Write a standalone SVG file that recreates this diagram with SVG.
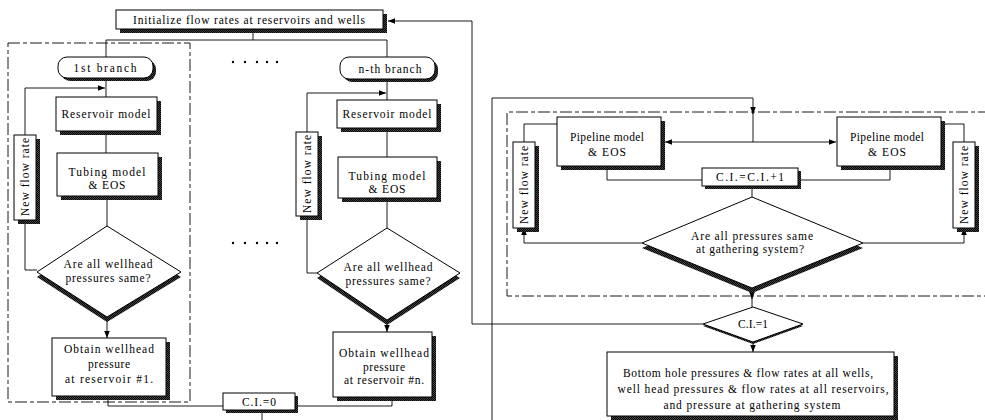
<svg xmlns="http://www.w3.org/2000/svg" width="985" height="420" viewBox="0 0 985 420">
<style>
.box{fill:#fff;stroke:#000;stroke-width:1}
.sh{fill:url(#hatch);stroke:none}
.t{font-family:"Liberation Serif","Times New Roman",serif;font-size:11.5px;text-anchor:middle;fill:#000}
.c{fill:none;stroke:#000;stroke-width:0.9}
.dash{fill:none;stroke:#000;stroke-width:0.9;stroke-dasharray:12,3,4,3}
</style>
<defs>
<pattern id="hatch" width="2" height="2" patternUnits="userSpaceOnUse">
<rect width="2" height="2" fill="#444"/><rect width="1" height="1" fill="#000"/><rect x="1" y="1" width="1" height="1" fill="#000"/>
</pattern>
<marker id="ar" viewBox="0 0 10 10" refX="10" refY="5" markerWidth="7" markerHeight="7" orient="auto" markerUnits="userSpaceOnUse">
<path d="M0,1 L10,5 L0,9 Z" fill="#000"/>
</marker>
</defs>

<g id="frames">
<rect class="dash" x="8" y="43" width="182" height="359"/>
<path class="dash" d="M990,112 H507 V296 H990"/>
</g>

<g id="connectors">
<path class="c" d="M253,29 V40 M106,40 H387 M106,40 V57 M387,40 V57"/>
<path class="c" d="M106,79 V97"/>
<path class="c" d="M25,135 V88 H105" marker-end="url(#ar)"/>
<path class="c" d="M106,131 V153"/>
<path class="c" d="M107,196 V226"/>
<path class="c" d="M25,220 V270 H37"/>
<path class="c" d="M107,317 V338" marker-end="url(#ar)"/>
<path class="c" d="M108,400 V406 H223"/>
<path class="c" d="M262,410 V420"/>
<path class="c" d="M295,406 H392 V401"/>
<path class="c" d="M387,79 V100"/>
<path class="c" d="M307,132 V93 H386" marker-end="url(#ar)"/>
<path class="c" d="M387,128 V157"/>
<path class="c" d="M387,198 V228"/>
<path class="c" d="M307,216 V273 H317"/>
<path class="c" d="M387,320 V332" marker-end="url(#ar)"/>
<path class="c" d="M703,324 H472 V21 H388" marker-end="url(#ar)"/>
<path class="c" d="M492,420 V98 H753 V114" marker-end="url(#ar)"/>
<path class="c" d="M753,112 V142"/>
<path class="c" d="M753,142 H665" marker-end="url(#ar)"/>
<path class="c" d="M753,142 H836" marker-end="url(#ar)"/>
<path class="c" d="M557,124 H524 V142"/>
<path class="c" d="M941,124 H964 V142"/>
<path class="c" d="M607,166 V180 H702"/>
<path class="c" d="M890,166 V180 H798"/>
<path class="c" d="M752,186 V197"/>
<path class="c" d="M642,243 H524 V228" marker-end="url(#ar)"/>
<path class="c" d="M863,243 H964 V228" marker-end="url(#ar)"/>
<path class="c" d="M752,288 V299" marker-end="url(#ar)"/>
<path class="c" d="M752,297 V307"/>
<path class="c" d="M753,342 V352" marker-end="url(#ar)"/>
</g>

<g id="dots">
<circle cx="233" cy="62" r="1.2"/><circle cx="245" cy="62" r="1.2"/><circle cx="257" cy="62" r="1.2"/><circle cx="267" cy="62" r="1.2"/><circle cx="277" cy="62" r="1.2"/>
<circle cx="233" cy="243" r="1.2"/><circle cx="245" cy="243" r="1.2"/><circle cx="257" cy="243" r="1.2"/><circle cx="267" cy="243" r="1.2"/><circle cx="277" cy="243" r="1.2"/>
</g>

<g id="init">
<rect class="sh" x="120" y="14" width="267" height="19"/>
<rect class="box" x="116" y="10" width="267" height="19"/>
<text class="t" x="249" y="24" textLength="232" lengthAdjust="spacing">Initialize flow rates at reservoirs and wells</text>
</g>

<g id="branch1">
<rect class="sh" x="61" y="60" width="95" height="21" rx="9"/>
<rect class="box" x="58" y="57" width="95" height="21" rx="9"/>
<text class="t" x="105" y="72" textLength="63" lengthAdjust="spacing">1st branch</text>
</g>
<g id="reservoir1">
<rect class="sh" x="60" y="101" width="101" height="34"/>
<rect class="box" x="56" y="97" width="101" height="34"/>
<text class="t" x="106" y="118" textLength="89" lengthAdjust="spacing">Reservoir model</text>
</g>
<g id="tubing1">
<rect class="sh" x="61" y="157" width="101" height="43"/>
<rect class="box" x="57" y="153" width="101" height="43"/>
<text class="t" x="107" y="176" textLength="77" lengthAdjust="spacing">Tubing model</text>
<text class="t" x="107" y="189" textLength="37" lengthAdjust="spacing">&amp; EOS</text>
</g>
<g id="decision1">
<polygon class="sh" points="107,231 181,277 107,322 37,277"/>
<polygon class="box" points="107,226 181,272 107,317 37,272"/>
<text class="t" x="108" y="268" textLength="89" lengthAdjust="spacing">Are all wellhead</text>
<text class="t" x="108" y="282" textLength="85" lengthAdjust="spacing">pressures same?</text>
</g>
<g id="newflow1">
<rect class="sh" x="18" y="139" width="22" height="85"/>
<rect class="box" x="14" y="135" width="22" height="85"/>
<text class="t" transform="translate(29,177) rotate(-90)" textLength="78" lengthAdjust="spacing">New flow rate</text>
</g>
<g id="obtain1">
<rect class="sh" x="56" y="342" width="114" height="58"/>
<rect class="box" x="52" y="338" width="114" height="58"/>
<text class="t" x="109" y="353" textLength="90" lengthAdjust="spacing">Obtain wellhead</text>
<text class="t" x="109" y="368" textLength="42" lengthAdjust="spacing">pressure</text>
<text class="t" x="109" y="383" textLength="88" lengthAdjust="spacing">at reservoir #1.</text>
</g>

<g id="ci0">
<rect class="sh" x="226" y="396" width="72" height="17"/>
<rect class="box" x="223" y="393" width="72" height="17"/>
<text class="t" x="259" y="405.5" textLength="34" lengthAdjust="spacing">C.I.=0</text>
</g>

<g id="branchn">
<rect class="sh" x="343" y="60" width="95" height="22" rx="9"/>
<rect class="box" x="340" y="57" width="95" height="22" rx="9"/>
<text class="t" x="390" y="72.5" textLength="63" lengthAdjust="spacing">n-th branch</text>
</g>
<g id="reservoirn">
<rect class="sh" x="341" y="104" width="100" height="28"/>
<rect class="box" x="337" y="100" width="100" height="28"/>
<text class="t" x="387" y="118" textLength="89" lengthAdjust="spacing">Reservoir model</text>
</g>
<g id="tubingn">
<rect class="sh" x="342" y="161" width="99" height="41"/>
<rect class="box" x="338" y="157" width="99" height="41"/>
<text class="t" x="387" y="180" textLength="77" lengthAdjust="spacing">Tubing model</text>
<text class="t" x="387" y="193" textLength="37" lengthAdjust="spacing">&amp; EOS</text>
</g>
<g id="decisionn">
<polygon class="sh" points="387,233 460,278 387,325 317,278"/>
<polygon class="box" points="387,228 460,273 387,320 317,273"/>
<text class="t" x="388" y="271" textLength="89" lengthAdjust="spacing">Are all wellhead</text>
<text class="t" x="388" y="285" textLength="85" lengthAdjust="spacing">pressures same?</text>
</g>
<g id="newflown">
<rect class="sh" x="300" y="136" width="22" height="84"/>
<rect class="box" x="296" y="132" width="22" height="84"/>
<text class="t" transform="translate(311,174) rotate(-90)" textLength="78" lengthAdjust="spacing">New flow rate</text>
</g>
<g id="obtainn">
<rect class="sh" x="337" y="336" width="99" height="65"/>
<rect class="box" x="333" y="332" width="99" height="65"/>
<text class="t" x="384" y="357" textLength="90" lengthAdjust="spacing">Obtain wellhead</text>
<text class="t" x="384" y="371" textLength="42" lengthAdjust="spacing">pressure</text>
<text class="t" x="384" y="384" textLength="80" lengthAdjust="spacing">at reservoir #n.</text>
</g>

<g id="pipeline1">
<rect class="sh" x="561" y="121" width="104" height="49"/>
<rect class="box" x="557" y="117" width="104" height="49"/>
<text class="t" x="607" y="141" textLength="74" lengthAdjust="spacing">Pipeline model</text>
<text class="t" x="607" y="156" textLength="38" lengthAdjust="spacing">&amp; EOS</text>
</g>
<g id="pipeline2">
<rect class="sh" x="841" y="121" width="104" height="49"/>
<rect class="box" x="837" y="117" width="104" height="49"/>
<text class="t" x="887" y="141" textLength="74" lengthAdjust="spacing">Pipeline model</text>
<text class="t" x="887" y="156" textLength="38" lengthAdjust="spacing">&amp; EOS</text>
</g>
<g id="ciinc">
<rect class="sh" x="705" y="171" width="96" height="18"/>
<rect class="box" x="702" y="168" width="96" height="18"/>
<text class="t" x="750" y="181" textLength="68" lengthAdjust="spacing">C.I.=C.I.+1</text>
</g>
<g id="decisiongs">
<polygon class="sh" points="752,202 863,248 752,293 642,248"/>
<polygon class="box" points="752,197 863,243 752,288 642,243"/>
<text class="t" x="752" y="240" textLength="122" lengthAdjust="spacing">Are all pressures same</text>
<text class="t" x="750" y="253" textLength="108" lengthAdjust="spacing">at gathering system?</text>
</g>
<g id="newflowg1">
<rect class="sh" x="517" y="146" width="22" height="86"/>
<rect class="box" x="513" y="142" width="22" height="86"/>
<text class="t" transform="translate(528,185) rotate(-90)" textLength="78" lengthAdjust="spacing">New flow rate</text>
</g>
<g id="newflowg2">
<rect class="sh" x="957" y="146" width="22" height="86"/>
<rect class="box" x="953" y="142" width="22" height="86"/>
<text class="t" transform="translate(968,185) rotate(-90)" textLength="78" lengthAdjust="spacing">New flow rate</text>
</g>
<g id="ci1">
<polygon class="sh" points="753,309 803,326 753,344 703,326"/>
<polygon class="box" points="753,307 803,324 753,342 703,324"/>
<text class="t" x="753" y="328" textLength="30" lengthAdjust="spacing">C.I.=1</text>
</g>
<g id="result">
<rect class="sh" x="611" y="356" width="287" height="64"/>
<rect class="box" x="607" y="352" width="287" height="64"/>
<text class="t" x="748" y="377" textLength="250" lengthAdjust="spacing">Bottom hole pressures &amp;  flow rates at all wells,</text>
<text class="t" x="753" y="393" textLength="271" lengthAdjust="spacing">well head pressures &amp; flow rates at all reservoirs,</text>
<text class="t" x="752" y="409" textLength="177" lengthAdjust="spacing">and pressure at gathering system</text>
</g>
</svg>
